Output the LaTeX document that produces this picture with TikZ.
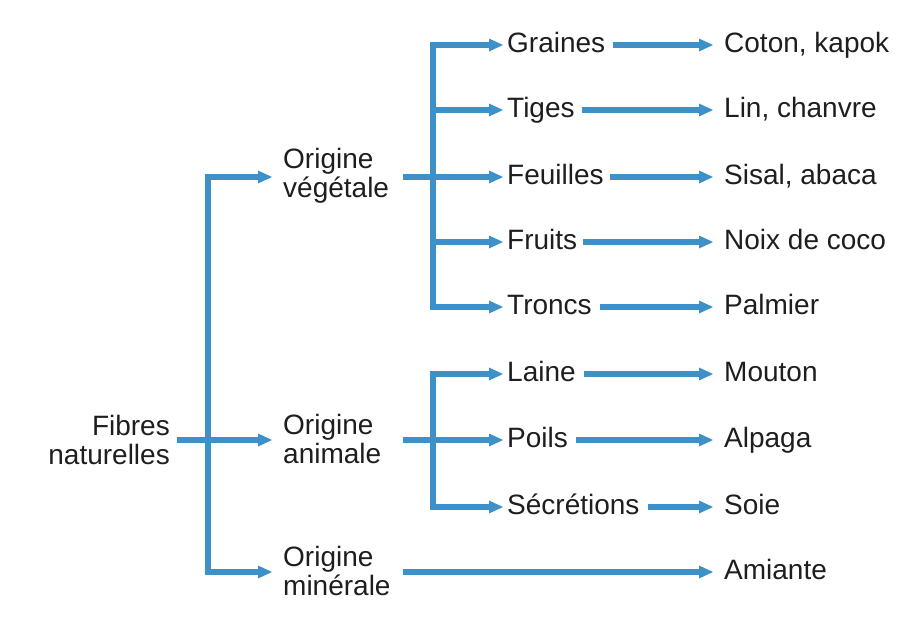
\documentclass[tikz,border=0pt]{standalone}
\usepackage{fontspec}
\setmainfont{Liberation Sans}
\usetikzlibrary{arrows.meta}
\definecolor{fblue}{RGB}{62,145,200}
\definecolor{ftext}{RGB}{30,30,30}
\begin{document}
\begin{tikzpicture}[x=1pt,y=-1pt,
  lbl/.style={font=\fontsize{28}{29}\selectfont, text=ftext, inner sep=0pt},
  one/.style={lbl, anchor=west, text height=20pt, text depth=6pt},
  two/.style={lbl, anchor=west},
  ln/.style={draw=fblue, line width=6.5pt},
  trunk/.style={ln, line cap=rect},
  arr/.style={ln, -{Triangle[length=14pt,width=13pt,line width=0pt]}},
]
\useasboundingbox (0,0) rectangle (899,624);

% first column
\node[two, align=right, anchor=east] (fibres) at (170,440) {Fibres\\naturelles};
% second column
\node[two, align=left] (ov) at (283,176) {Origine\\végétale};
\node[two, align=left] (oa) at (283,439) {Origine\\animale};
\node[two, align=left] (om) at (283,571) {Origine\\minérale};
% third column
\node[one] (graines) at (507,45) {Graines};
\node[one] (tiges) at (507,110) {Tiges};
\node[one] (feuilles) at (507,177) {Feuilles};
\node[one] (fruits) at (507,242) {Fruits};
\node[one] (troncs) at (507,307) {Troncs};
\node[one] (laine) at (507,374) {Laine};
\node[one] (poils) at (507,440) {Poils};
\node[one] (secr) at (507,507) {Sécrétions};
% fourth column
\node[one] (coton) at (724,45) {Coton, kapok};
\node[one] (lin) at (724,110) {Lin, chanvre};
\node[one] (sisal) at (724,177) {Sisal, abaca};
\node[one] (noix) at (724,242) {Noix de coco};
\node[one] (palmier) at (724,307) {Palmier};
\node[one] (mouton) at (724,374) {Mouton};
\node[one] (alpaga) at (724,440) {Alpaga};
\node[one] (soie) at (724,507) {Soie};
\node[one] (amiante) at (724,572) {Amiante};

% junction coordinates
\coordinate (jt) at (208,177);
\coordinate (jb) at (208,572);
\coordinate (ox) at (403,0);
\coordinate (vt) at (433,45);
\coordinate (vtg) at (433,110);
\coordinate (vfr) at (433,242);
\coordinate (vb) at (433,307);
\coordinate (at) at (433,374);
\coordinate (ab) at (433,507);

% main trunk
\draw[trunk] (jt) -- (jb);
\draw[arr] ([xshift=7pt]fibres.east) -- ([xshift=-11pt]oa.west |- fibres.east);
\draw[arr] (jt) -- ([xshift=-11pt]ov.west |- jt);
\draw[arr] (jb) -- ([xshift=-11pt]om.west |- jb);

% vegetale
\draw[trunk] (vt) -- (vb);
\draw[arr] (feuilles.west -| ox) -- ([xshift=-4pt]feuilles.west);
\draw[arr] (vt) -- ([xshift=-4pt]graines.west);
\draw[arr] (vtg) -- ([xshift=-4pt]tiges.west);
\draw[arr] (vfr) -- ([xshift=-4pt]fruits.west);
\draw[arr] (vb) -- ([xshift=-4pt]troncs.west);

% animale
\draw[trunk] (at) -- (ab);
\draw[arr] (poils.west -| ox) -- ([xshift=-4pt]poils.west);
\draw[arr] (at) -- ([xshift=-4pt]laine.west);
\draw[arr] (ab) -- ([xshift=-4pt]secr.west);

% minerale
\draw[arr] (amiante.west -| ox) -- ([xshift=-11pt]amiante.west);

% to examples
\draw[arr] ([xshift=8pt]graines.east) -- ([xshift=-11pt]coton.west);
\draw[arr] ([xshift=7pt]tiges.east) -- ([xshift=-11pt]lin.west);
\draw[arr] ([xshift=6pt]feuilles.east) -- ([xshift=-11pt]sisal.west);
\draw[arr] ([xshift=6pt]fruits.east) -- ([xshift=-11pt]noix.west);
\draw[arr] ([xshift=8pt]troncs.east) -- ([xshift=-11pt]palmier.west);
\draw[arr] ([xshift=8pt]laine.east) -- ([xshift=-11pt]mouton.west);
\draw[arr] ([xshift=8pt]poils.east) -- ([xshift=-11pt]alpaga.west);
\draw[arr] ([xshift=8pt]secr.east) -- ([xshift=-11pt]soie.west);
\end{tikzpicture}
\end{document}
